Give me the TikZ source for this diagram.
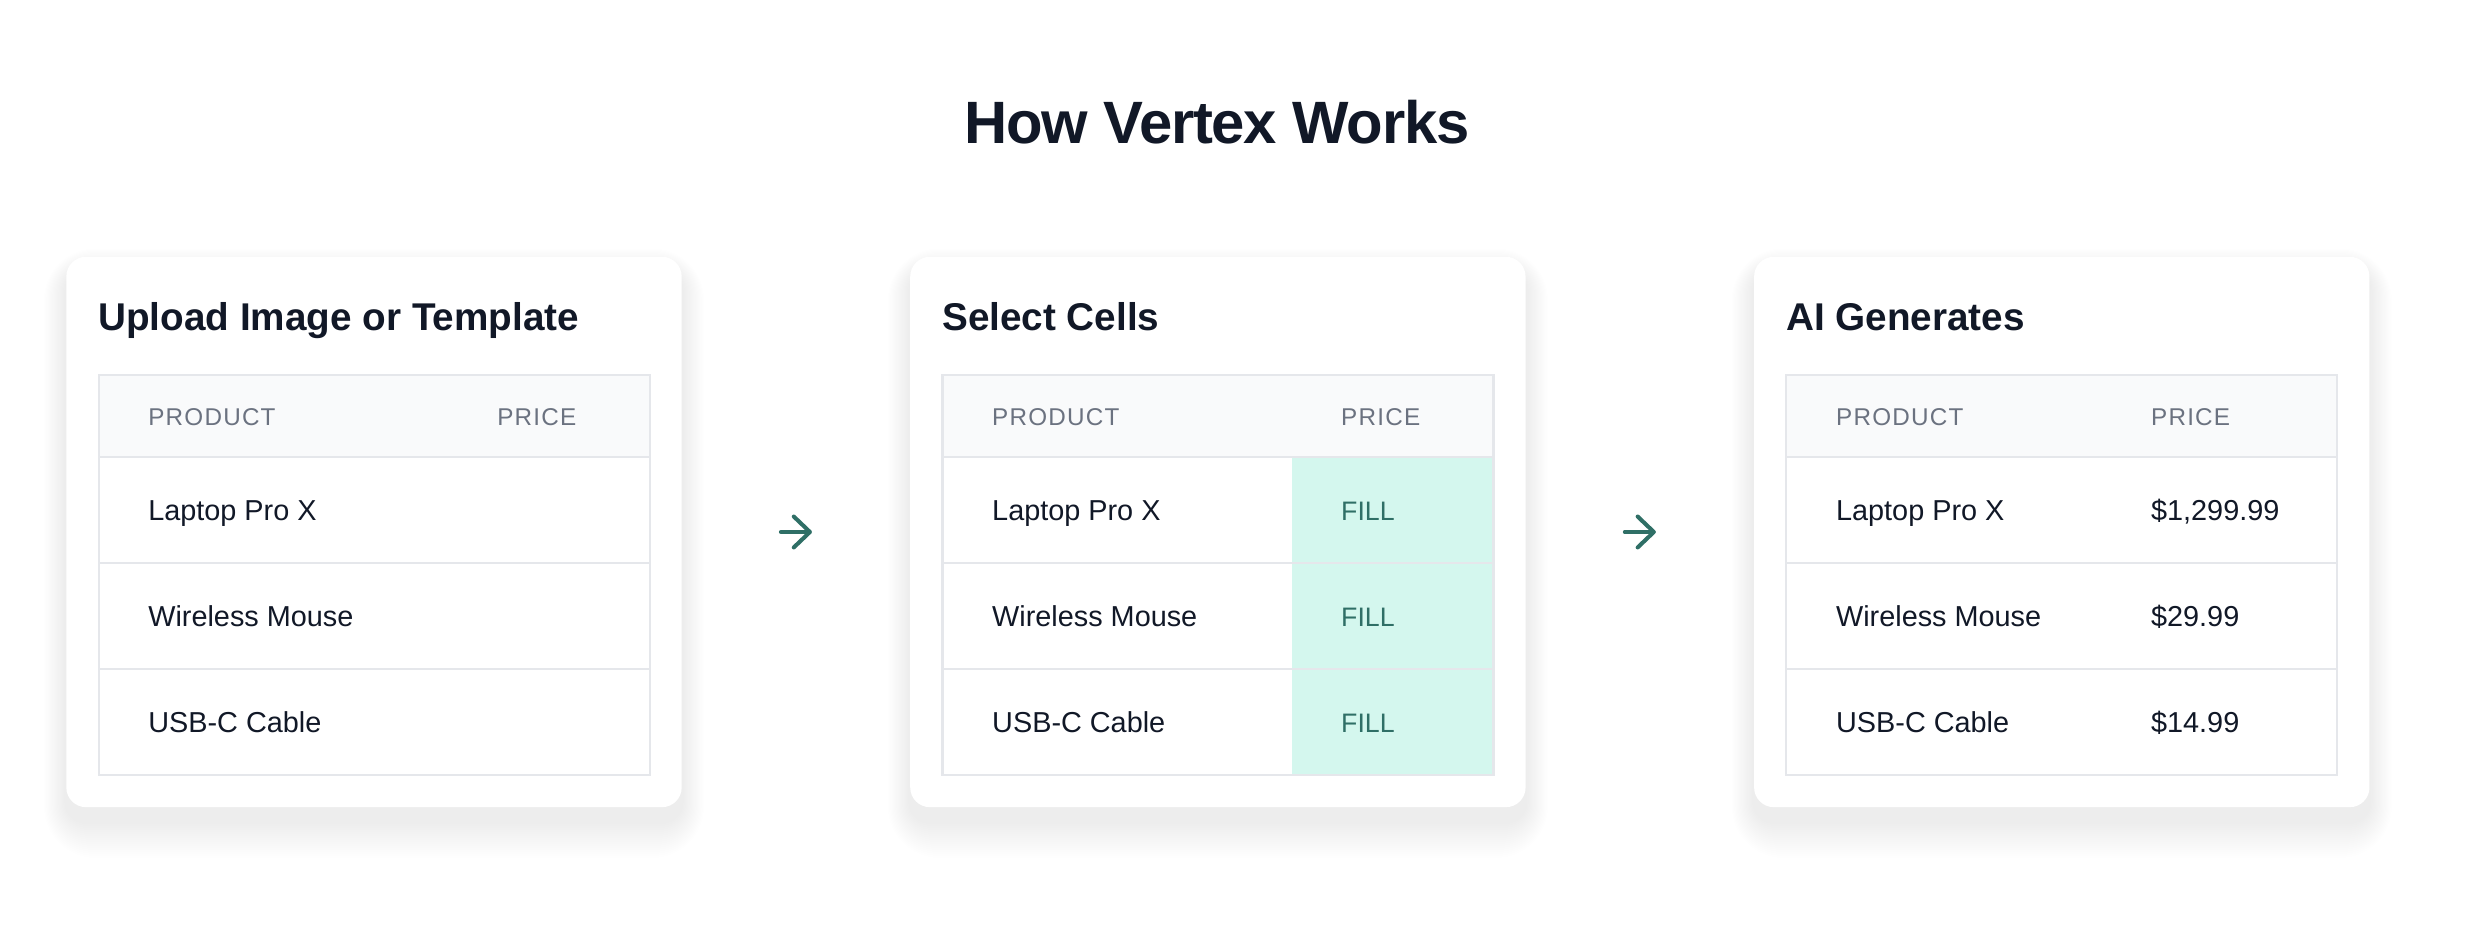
\documentclass[tikz,border=0pt]{standalone}
\usepackage{fontspec}
\setmainfont{Liberation Sans}
\newfontfamily\titlefont[LetterSpace=-2]{Liberation Sans}
\usetikzlibrary{positioning,backgrounds,arrows.meta}
\definecolor{ink}{HTML}{111827}
\definecolor{muted}{HTML}{6B7280}
\definecolor{gridgray}{HTML}{E5E7EB}
\definecolor{headbg}{HTML}{F9FAFB}
\definecolor{mint}{HTML}{D4F7EE}
\definecolor{deepteal}{HTML}{2F6F66}
\tikzset{
  card/.style={fill=white, rounded corners=5.6pt, minimum width=6.15cm, minimum height=5.5cm, inner sep=0pt},
  steptitle/.style={anchor=base west, inner sep=0pt, text=ink, font=\bfseries\fontsize{11pt}{13pt}\selectfont},
  colhead/.style={anchor=base west, inner sep=0pt, text=muted, font=\fontsize{6.9pt}{8pt}\selectfont\addfontfeatures{LetterSpace=5}},
  cell/.style={anchor=base west, inner sep=0pt, text=ink, font=\fontsize{8.2pt}{10pt}\selectfont},
  fillcell/.style={anchor=base west, inner sep=0pt, text=deepteal, font=\fontsize{7.6pt}{9pt}\selectfont},
  gridline/.style={draw=gridgray, line width=0.6pt},
  flow/.style={draw=deepteal, line width=1.15pt, line cap=round, -{Straight Barb[length=4.6pt,width=8.8pt,line cap=round,line join=round]}},
}
% header row + product column, #1 = card, #2 = x of price column
\newcommand\tablegrid[2]{%
  \fill[headbg] (33,119) rectangle (584,201);
  \foreach \y in {201,307,413}
    \draw[gridline] (33,\y) -- (584,\y);
  \draw[gridline] (33,119) rectangle (584,519);
  \node[colhead] (#1-hp) at (82,169) {PRODUCT};
  \node[colhead] (#1-hc) at (#2,169) {PRICE};
  \foreach \item [count=\r] in {Laptop Pro X,Wireless Mouse,USB-C Cable}
    \node[cell] (#1-p\r) at (82,{158+106*\r}) {\item};
}

\begin{document}
\begin{tikzpicture}[x=0.01cm, y=-0.01cm]
  \useasboundingbox (0,0) rectangle (2468,940);

  \node[text=ink, font=\titlefont\bfseries\fontsize{17pt}{20pt}\selectfont] (title) at (1217,122) {How Vertex Works};

  % the three steps
  \node[card] (upload) at (374,532) {};
  \node[card, right=2.27cm of upload] (select) {};
  \node[card, right=2.27cm of select] (generate) {};

  \draw[flow, shorten <=0.985cm, shorten >=0.975cm] (upload.east) -- (select.west);
  \draw[flow, shorten <=0.985cm, shorten >=0.975cm] (select.east) -- (generate.west);

  \begin{scope}[shift={(upload.north west)}]
    \node[steptitle] (upload-t) at (32,74) {Upload Image or Template};
    \tablegrid{upload}{431}
  \end{scope}

  \begin{scope}[shift={(select.north west)}]
    \node[steptitle] (select-t) at (32,74) {Select Cells};
    \fill[mint] (382,201) rectangle (584,519);
    \tablegrid{select}{431}
    \foreach \r in {1,2,3}
      \node[fillcell] (select-f\r) at (431,{158+106*\r}) {FILL};
  \end{scope}

  \begin{scope}[shift={(generate.north west)}]
    \node[steptitle] (generate-t) at (32,74) {AI Generates};
    \tablegrid{generate}{397}
    \foreach \price [count=\r] in {{\$1,299.99},{\$29.99},{\$14.99}}
      \node[cell] (generate-v\r) at (397,{158+106*\r}) {\price};
  \end{scope}

  % page and soft shadows
  \begin{scope}[on background layer]
    \fill[white] (0,0) rectangle (2468,940);
    \foreach \c in {upload,select,generate}
      \foreach \s in {2,4,...,36}
        \fill[black, opacity=0.003, rounded corners=5.6pt+\s*0.25pt]
          ([xshift=-\s*0.006cm, yshift=(\s*0.6-14)*0.01cm]\c.north west)
          rectangle ([xshift=\s*0.006cm, yshift=(-\s-14)*0.01cm]\c.south east);
  \end{scope}
\end{tikzpicture}
\end{document}
